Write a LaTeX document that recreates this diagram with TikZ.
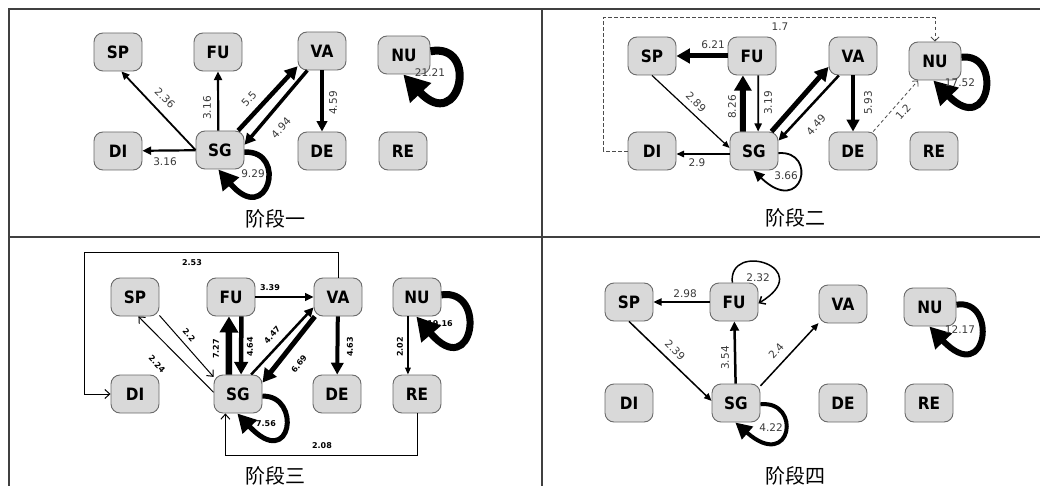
\documentclass[tikz,border=0pt]{standalone}
\usepackage{fontspec}
\setmainfont{DejaVu Sans}
\newfontfamily\cjkf{Noto Sans CJK SC}
\newfontfamily\nodef[FakeStretch=0.9]{DejaVu Sans}
\usetikzlibrary{arrows.meta}
\definecolor{nodefill}{HTML}{D9D9D9}
\definecolor{nodeline}{HTML}{6A6A6A}
\definecolor{labc}{HTML}{3A3A3A}
\definecolor{framec}{HTML}{404040}
\tikzset{
 st/.style={draw=nodeline, fill=nodefill, line width=0.9pt, rounded corners=9pt, minimum width=48pt, minimum height=38pt, inner sep=0pt, font=\nodef\bfseries\fontsize{17}{17}\selectfont},
 lab/.style={font=\fontsize{10.5}{11}\selectfont, text=labc, inner sep=0.5pt},
 labb/.style={font=\bfseries\fontsize{8}{8}\selectfont, text=black, inner sep=0.5pt},
 ar/.style={draw, line width=#1, -{Triangle[length=5pt 1.7, width=3pt 2.3]}},
 lp/.style={draw, line width=#1, -{Triangle[length=7pt 2.3, width=5pt 2.8]}},
 op/.style={draw, line width=#1, -{Straight Barb[length=5pt, width=9pt]}},
 dsh/.style={draw=black!70, line width=0.8pt, dash pattern=on 3.5pt off 2.5pt, -{Straight Barb[length=4pt, width=8pt]}},
 frm/.style={draw=framec, line width=1.6pt},
 captxt/.style={font=\cjkf\fontsize{20}{20}\selectfont, inner sep=0pt},
}
\begin{document}
\begin{tikzpicture}[x=1pt,y=-1pt]
\useasboundingbox (0,0) rectangle (1040,486);
% frame
\draw[frm] (9,486) -- (9,9) -- (1040,9);
\draw[frm] (542,9) -- (542,486);
\draw[frm] (9,237) -- (1040,237);

% ---------------- panel 1
\node[st] (aSP) at (118,52) {SP};
\node[st] (aFU) at (218,52) {FU};
\node[st] (aVA) at (322,51) {VA};
\node[st, minimum width=52pt] (aNU) at (404,55) {NU};
\node[st] (aDI) at (118,151) {DI};
\node[st] (aSG) at (220,150) {SG};
\node[st] (aDE) at (322,151) {DE};
\node[st] (aRE) at (403,151) {RE};
\draw[ar=1.8] (aSG.west) -- (aSP.-80);
\draw[ar=2.2] (aSG.95) -- (aFU.south);
\draw[ar=4.5] (aSG.47) -- (aVA.212);
\draw[ar=3.5] (aVA.233) -- (aSG.12);
\draw[ar=3.2] (aVA) -- (aDE);
\draw[ar=2.2] (aSG) -- (aDI);
\draw[lp=5.5] (aSG.-5) .. controls (288,150) and (268,228) .. (aSG.-95);
\draw[lp=8] (aNU.8) .. controls (480,42) and (460,135) .. (aNU.-92);
\node[lab, rotate=-44] (aL1) at (165,98) {2.36};
\node[lab, rotate=90] (aL2) at (207,108) {3.16};
\node[lab, rotate=47] (aL3) at (249,99) {5.5};
\node[lab, rotate=47] (aL4) at (281,128) {4.94};
\node[lab, rotate=90] (aL5) at (333,103) {4.59};
\node[lab] (aL6) at (165,162) {3.16};
\node[lab] (aL7) at (253,174) {9.29};
\node[lab] (aL8) at (430,73) {21.21};
\node[captxt] (aCap) at (275,219) {阶段一};

% ---------------- panel 2
\node[st] (bSP) at (652,56) {SP};
\node[st] (bFU) at (752,56) {FU};
\node[st] (bVA) at (853,56) {VA};
\node[st, minimum width=52pt] (bNU) at (935,61) {NU};
\node[st] (bDI) at (652,151) {DI};
\node[st] (bSG) at (754,151) {SG};
\node[st] (bDE) at (853,151) {DE};
\node[st] (bRE) at (934,151) {RE};
\draw[ar=5] (bFU) -- (bSP);
\draw[ar=1.2] (bSP.south) -- (bSG.173);
\draw[ar=6] (bSG.120) -- (bFU.245);
\draw[ar=1.8] (bFU.-72) -- (bSG.78);
\draw[ar=5] (bSG.48) -- (bVA.204);
\draw[ar=2.5] (bVA.234) -- (bSG.23);
\draw[ar=4] (bVA) -- (bDE);
\draw[dsh] (bDE.44) -- (bNU.229);
\draw[dsh] (bDI.west) -- ++(-24,0) |- ([yshift=24pt]bNU.north) -- (bNU.north);
\draw[ar=1.5] (bSG.187) -- (bDI.-7);
\draw[lp=1.8] (bSG.-5) .. controls (818,150) and (803,218) .. (bSG.-92);
\draw[lp=7] (bNU.8) .. controls (1003,52) and (990,138) .. (bNU.-95);
\node[lab] (bL1) at (713,45) {6.21};
\node[lab, rotate=-45] (bL2) at (696,102) {2.89};
\node[lab, rotate=90] (bL3) at (732,107) {8.26};
\node[lab, rotate=90] (bL4) at (768,103) {3.19};
\node[lab, rotate=48] (bL5) at (816,125) {4.49};
\node[lab, rotate=90] (bL6) at (868,103) {5.93};
\node[lab, rotate=48] (bL7) at (903,112) {1.2};
\node[lab] (bL8) at (780,27) {1.7};
\node[lab] (bL9) at (697,163) {2.9};
\node[lab] (bL10) at (786,176) {3.66};
\node[lab] (bL11) at (960,83) {17.52};
\node[captxt] (bCap) at (795,218) {阶段二};

% ---------------- panel 3
\node[st] (cSP) at (135,297) {SP};
\node[st] (cFU) at (231,297) {FU};
\node[st] (cVA) at (338,297) {VA};
\node[st] (cNU) at (417,297) {NU};
\node[st] (cDI) at (135,394) {DI};
\node[st] (cSG) at (238,394) {SG};
\node[st] (cDE) at (337,394) {DE};
\node[st] (cRE) at (417,394) {RE};
\draw[op=1] (cVA.north) -- ++(0,-25) -| ([xshift=-26pt]cDI.west) -- (cDI.west);
\draw[op=1] (cRE.south) -- ++(0,42) -| (cSG.-123);
\draw[ar=2] (cFU) -- (cVA);
\draw[op=1] (cSP.-37) -- (cSG.145);
\draw[op=1] (cSG.176) -- (cSP.-80);
\draw[ar=6.5] (cSG.115) -- (cFU.-96);
\draw[ar=4.5] (cFU.-62) -- (cSG.81);
\draw[ar=2.5] (cSG.56) -- (cVA.203);
\draw[ar=5] (cVA.220) -- (cSG.25);
\draw[ar=4] (cVA) -- (cDE);
\draw[ar=1.2] (cNU.-115) -- (cRE.115);
\draw[lp=5] (cSG.-5) .. controls (302,395) and (292,472) .. (cSG.-92);
\draw[lp=7] (cNU.5) .. controls (488,288) and (473,383) .. (cNU.-92);
\node[labb] (cL1) at (192,263) {2.53};
\node[labb] (cL2) at (270,288) {3.39};
\node[labb, rotate=-49] (cL3) at (189,335) {2.2};
\node[labb, rotate=-46] (cL4) at (157,364) {2.24};
\node[labb, rotate=90] (cL5) at (216,349) {7.27};
\node[labb, rotate=90] (cL6) at (250,347) {4.64};
\node[labb, rotate=48] (cL7) at (272,335) {4.47};
\node[labb, rotate=51] (cL8) at (299,364) {6.69};
\node[labb, rotate=90] (cL9) at (350,347) {4.63};
\node[labb, rotate=90] (cL10) at (400,347) {2.02};
\node[labb] (cL11) at (322,446) {2.08};
\node[labb] (cL12) at (266,424) {7.56};
\node[labb] (cL13) at (440,324) {19.16};
\node[captxt] (cCap) at (275,476) {阶段三};

% ---------------- panel 4
\node[st] (dSP) at (629,302) {SP};
\node[st] (dFU) at (734,302) {FU};
\node[st] (dVA) at (843,304) {VA};
\node[st, minimum width=52pt] (dNU) at (930,307) {NU};
\node[st] (dDI) at (629,403) {DI};
\node[st] (dSG) at (736,403) {SG};
\node[st] (dDE) at (843,403) {DE};
\node[st] (dRE) at (929,403) {RE};
\draw[ar=1.8] (dFU) -- (dSP);
\draw[op=1.5] (dFU.95) .. controls (728,240) and (818,268) .. (dFU.-3);
\draw[ar=1.5] (dSP.south) -- (dSG.175);
\draw[ar=2.5] (dSG) -- (dFU);
\draw[ar=1.5] (dSG.35) -- (dVA.218);
\draw[lp=4] (dSG.-3) .. controls (802,400) and (792,472) .. (dSG.-92);
\draw[lp=6] (dNU.5) .. controls (998,298) and (988,388) .. (dNU.-92);
\node[lab] (dL1) at (685,294) {2.98};
\node[lab] (dL2) at (758,278) {2.32};
\node[lab, rotate=-45] (dL3) at (675,350) {2.39};
\node[lab, rotate=90] (dL4) at (725,358) {3.54};
\node[lab, rotate=48] (dL5) at (776,351) {2.4};
\node[lab] (dL6) at (771,428) {4.22};
\node[lab] (dL7) at (960,330) {12.17};
\node[captxt] (dCap) at (795,476) {阶段四};
\end{tikzpicture}
\end{document}
